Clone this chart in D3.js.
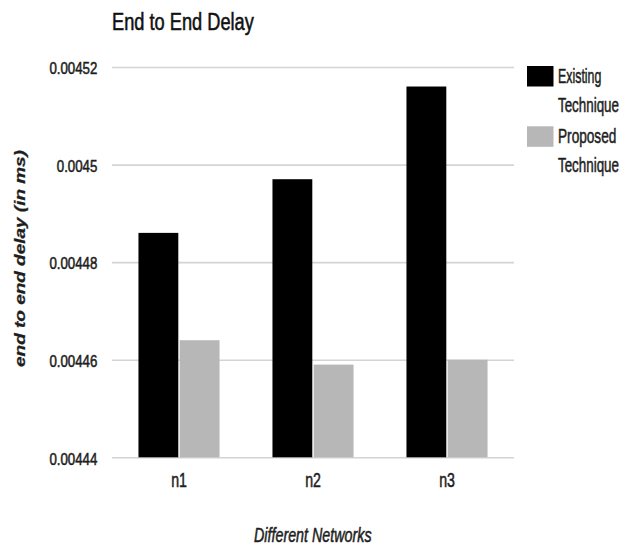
<!DOCTYPE html>
<html>
<head>
<meta charset="utf-8">
<script src="https://cdn.jsdelivr.net/npm/d3@7/dist/d3.min.js"></script>
<style>
  html, body { margin: 0; padding: 0; background: #fff; }
  svg { display: block; }
  text { font-family: "Liberation Sans", Arial, sans-serif; fill: #1e1e1e; stroke: #1e1e1e; stroke-width: 0.55px; }
</style>
</head>
<body>
<svg id="chart" width="622" height="547"></svg>
<script>
// Networks on the x axis
const networks = ["n1", "n2", "n3"];
// Series names and their values (end to end delay, ms)
const seriesNames = ["Existing Technique", "Proposed Technique"];
const existingValues = [0.004486, 0.004497, 0.004516];
const proposedValues = [0.004464, 0.004459, 0.00446];
// Y axis ticks and labels
const yTicks = [0.00444, 0.00446, 0.00448, 0.0045, 0.00452];
const yTickLabels = ["0.00444", "0.00446", "0.00448", "0.0045", "0.00452"];
const seriesColors = ["#000000", "#b7b7b7"];

const rows = networks.map((n, i) => ({
  network: n,
  values: [existingValues[i], proposedValues[i]]
}));

const svg = d3.select("#chart");
const plot = { left: 112, right: 514, top: 67, bottom: 457.3 };

// Squeeze a text horizontally (in its own frame) to a given width
function fitWidth(textSel, width, baseTransform) {
  const natural = textSel.node().getComputedTextLength();
  const sx = width / natural;
  textSel.attr("transform", `${baseTransform} scale(${sx},1)`);
}

const y = d3.scaleLinear()
  .domain([yTicks[0], yTicks[yTicks.length - 1]])
  .range([plot.bottom, plot.top]);

const x0 = d3.scaleBand()
  .domain(networks)
  .range([plot.left, plot.right])
  .paddingInner(0.395)
  .paddingOuter(0.1975);

const x1 = d3.scaleBand()
  .domain(seriesNames)
  .range([0, x0.bandwidth()]);

const color = d3.scaleOrdinal().domain(seriesNames).range(seriesColors);

// Horizontal gridlines with tick labels
const yAxis = svg.append("g")
  .attr("transform", `translate(${plot.left},0)`)
  .call(d3.axisLeft(y)
    .tickValues(yTicks)
    .tickFormat((d, i) => yTickLabels[i])
    .tickSize(-(plot.right - plot.left))
    .tickPadding(0));
yAxis.select(".domain").remove();
yAxis.selectAll(".tick line")
  .attr("stroke", "#d4d4d4")
  .attr("stroke-width", 1.6);
yAxis.selectAll(".tick text")
  .attr("x", 0)
  .attr("dy", null)
  .attr("transform", "translate(-14.7,6.8) scale(0.78,1)")
  .style("font-size", "17px")
  .style("fill", "#1e1e1e");

// Grouped bars
const groups = svg.append("g")
  .selectAll("g")
  .data(rows)
  .join("g")
  .attr("transform", d => `translate(${x0(d.network)},0)`);

groups.selectAll("rect")
  .data(d => d.values.map((v, k) => ({ key: seriesNames[k], value: v })))
  .join("rect")
  .attr("x", d => x1(d.key) + (d.key === seriesNames[1] ? 0.7 : 0))
  .attr("y", d => y(d.value))
  .attr("width", x1.bandwidth() - 0.7)
  .attr("height", d => y(yTicks[0]) - y(d.value))
  .attr("fill", d => color(d.key));

// Category labels
const xAxis = svg.append("g")
  .attr("transform", `translate(0,${plot.bottom})`)
  .call(d3.axisBottom(x0).tickSize(0).tickPadding(0));
xAxis.select(".domain").remove();
xAxis.selectAll(".tick text")
  .attr("y", 0)
  .attr("dy", null)
  .attr("transform", "translate(0,29.3) scale(0.725,1)")
  .style("font-size", "19.5px")
  .style("fill", "#1e1e1e");

// Title
const title = svg.append("text")
  .style("font-size", "24px")
  .style("fill", "#111")
  .style("stroke", "#111")
  .text("End to End Delay");
fitWidth(title, 142, "translate(112,29.5)");

// Y axis title
const yTitle = svg.append("text")
  .attr("text-anchor", "middle")
  .style("font-size", "14px")
  .style("font-weight", "bold")
  .style("font-style", "italic")
  .style("stroke-width", "0.25px")
  .text("end to end delay (in ms)");
fitWidth(yTitle, 217, "translate(25,258.5) rotate(-90)");

// X axis title
const xTitle = svg.append("text")
  .style("font-size", "20px")
  .style("font-style", "italic")
  .text("Different Networks");
fitWidth(xTitle, 117.7, "translate(254,541.7)");

// Legend
const legendLines = [
  ["Existing", "Technique"],
  ["Proposed", "Technique"]
];
const legendWidths = [[43.4, 61], [58.4, 61]];
const legend = svg.append("g").attr("transform", "translate(527,66)");
const item = legend.selectAll("g")
  .data(seriesNames)
  .join("g")
  .attr("transform", (d, i) => `translate(0,${i * 60.3})`);
item.append("rect")
  .attr("width", 26.5)
  .attr("height", 20.5)
  .attr("fill", d => color(d));
item.each(function(d, i) {
  const g = d3.select(this);
  legendLines[i].forEach((line, j) => {
    const t = g.append("text")
      .style("font-size", "21px")
      .text(line);
    fitWidth(t, legendWidths[i][j], `translate(31,${17 + j * 29})`);
  });
});
</script>
</body>
</html>
